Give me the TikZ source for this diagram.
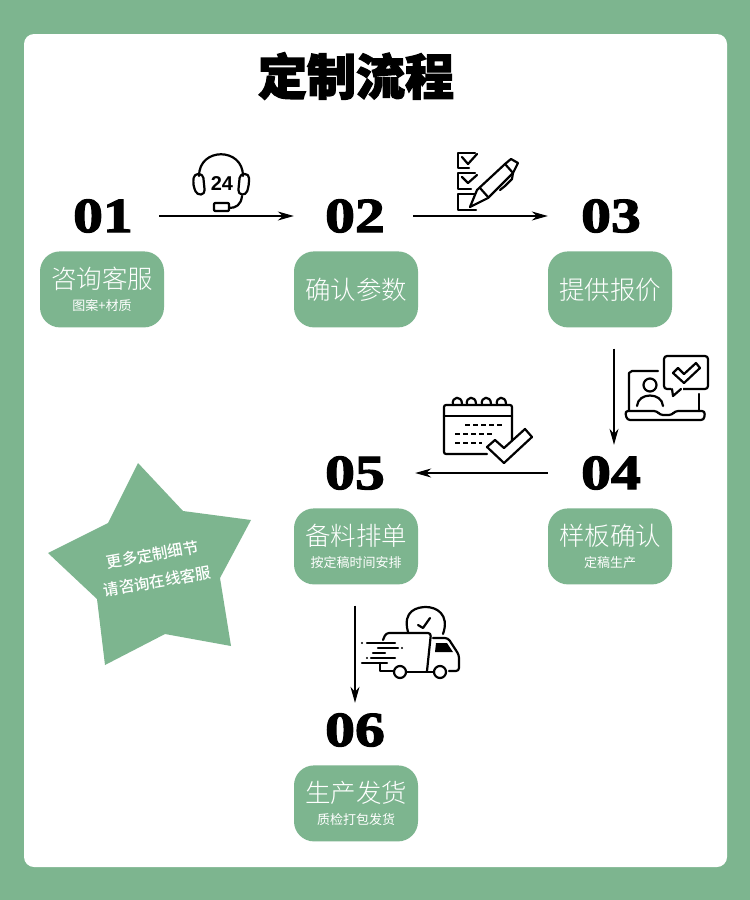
\documentclass[tikz,border=0pt]{standalone}
\usepackage{fontspec}
\usepackage{xcolor}
\usetikzlibrary{arrows.meta, positioning}
\newfontfamily\cjklight{Noto Sans CJK SC Light}
\newfontfamily\cjkreg{Noto Sans CJK SC}
\newfontfamily\cjkmed{Noto Sans CJK SC Medium}
\newfontfamily\cjktitle[FakeBold=2.5]{Noto Sans CJK SC Black}
\newfontfamily\numfont[FakeBold=2.6, FakeStretch=1.22]{Liberation Serif Bold}
\newfontfamily\iconfont{Liberation Sans Bold}
\definecolor{sage}{RGB}{125,181,143}
\newcommand{\mainsub}[2]{{\fontsize{25.5}{30}\selectfont #1}\\[-8pt]{\cjkreg\fontsize{13}{16}\selectfont #2}}
\newcommand{\mainonly}[1]{\raisebox{-2pt}{\fontsize{25.5}{30}\selectfont #1}}

\begin{document}
\begin{tikzpicture}[
  x=1pt, y=-1pt,
  node distance=15pt,
  numbox/.style={minimum width=116pt, minimum height=40pt, inner sep=0pt, font=\numfont\fontsize{49}{49}\selectfont},
  stepbox/.style={rectangle, fill=sage, rounded corners=20pt, minimum width=124pt, minimum height=76pt,
                  inner sep=0pt, align=center, text=white, font=\cjklight\fontsize{25.5}{30}\selectfont},
  arr/.style={-{Stealth[length=16pt, width=9pt, inset=5pt]}, line width=1.3pt, draw=black},
  icon/.style={draw=black, line width=2.2pt, line join=round, line cap=round}
]
  \useasboundingbox (0,0) rectangle (750,900);
  \fill[sage] (0,0) rectangle (750,900);
  \fill[white, rounded corners=10pt] (24,34) rectangle (727,867);

  \node[font=\cjktitle\fontsize{49}{50}\selectfont] (title) at (356,76) {定制流程};

  \node[numbox] (num01) at (103,216) {01};
  \node[numbox] (num02) at (355,216) {02};
  \node[numbox] (num03) at (611,216) {03};
  \node[numbox] (num04) at (611,473) {04};
  \node[numbox] (num05) at (355,473) {05};
  \node[numbox] (num06) at (355,730) {06};

  \node[stepbox, below=of num01, xshift=-1pt] (box01) {\mainsub{咨询客服}{图案+材质}};
  \node[stepbox, below=of num02, xshift=1pt]  (box02) {\mainonly{确认参数}};
  \node[stepbox, below=of num03, xshift=-1pt] (box03) {\mainonly{提供报价}};
  \node[stepbox, below=of num04, xshift=-1pt] (box04) {\mainsub{样板确认}{定稿生产}};
  \node[stepbox, below=of num05, xshift=1pt]  (box05) {\mainsub{备料排单}{按定稿时间安排}};
  \node[stepbox, below=of num06, xshift=1pt]  (box06) {\mainsub{生产发货}{质检打包发货}};

  \draw[arr] ([xshift=-2pt]num01.east) -- ([xshift=-3pt]num02.west);
  \draw[arr] (num02.east) -- ([xshift=-5pt]num03.west);
  \draw[arr, shorten <=21pt, shorten >=8pt] ([xshift=4pt]box03.south) -- ([xshift=3pt]num04.north);
  \draw[arr] ([xshift=-5pt]num04.west) -- ([xshift=2pt]num05.east);
  \draw[arr, shorten <=21pt, shorten >=7pt] ([xshift=-1pt]box05.south) -- (num06.north);

  % star
  \fill[sage] (138,463) -- (183,511) -- (251,520) -- (220,578) -- (231,646) -- (165,634)
    -- (105,665) -- (97,599) -- (48,553) -- (108,523) -- cycle;
  \node[rotate=10, align=center, text=white, font=\cjkmed\fontsize{15.5}{27}\selectfont] (starnote) at (155,568)
    {更多定制细节\\请咨询在线客服};

  % headset
  \draw[icon] (199,176) .. controls (199,147) and (243,147) .. (243,176);
  \draw[icon, rounded corners=4pt] (194,174) -- (203,174) -- (205,194) -- (197,195) -- (193,185) -- cycle;
  \draw[icon, rounded corners=4pt] (240,174) -- (249,174) -- (249,185) -- (246,195) -- (238,194) -- cycle;
  \draw[icon] (242,196) .. controls (241,205) and (236,208) .. (229,208);
  \draw[icon, rounded corners=1pt] (214,203) rectangle (229,211);
  \node[inner sep=0pt, font=\iconfont\fontsize{20}{20}\selectfont] (hours) at (222,184) {24};

  % checklist and pen
  \draw[icon] (475,153) -- (458,153) -- (458,168) -- (469,168);
  \draw[icon] (462,157) -- (468,164) -- (477,154);
  \draw[icon] (475,173) -- (458,173) -- (458,189) -- (471,189);
  \draw[icon] (462,177) -- (468,183) -- (477,175);
  \draw[icon] (475,194) -- (458,194) -- (458,210) -- (476,210);
  \draw[icon] (470,207) -- (477,190) -- (505,164) -- (513,173) -- (488,198) -- cycle;
  \draw[icon] (480,188) -- (488,197);
  \draw[icon] (505,164) -- (511,159) -- (518,163) -- (513,173);
  \draw[icon] (513,173) -- (512,179) -- (505,186) -- (500,190);

  % laptop and speech bubble
  \draw[icon] (658,371) -- (632,371) -- (629,373) -- (629,410);
  \draw[icon] (699,394) -- (699,411);
  \draw[icon, rounded corners=3pt] (625,411) -- (657,411) -- (660,415) -- (672,415) -- (675,411) -- (705,411)
    -- (704,420) -- (627,420) -- cycle;
  \draw[icon, rounded corners=3pt] (664,356) rectangle (708,389);
  \fill[white] (671,386) rectangle (683,391);
  \draw[icon] (672,389) -- (673,396) -- (681,389);
  \draw[icon] (673,373) -- (678,368) -- (684,374) -- (696,363) -- (700,368) -- (684,383) -- cycle;
  \draw[icon] (650,385) circle[radius=6.5pt];
  \draw[icon] (637,406) .. controls (638,392) and (662,392) .. (663,406);

  % calendar
  \draw[icon, rounded corners=2pt] (512,440) -- (512,405) -- (444,405) -- (444,454) -- (487,454);
  \draw[icon] (444,416) -- (512,416);
  \foreach \ringx in {453,467,482,497}
    \draw[icon] (\ringx,405) .. controls (\ringx-2,396) and (\ringx+9,395) .. (\ringx+9,404);
  \draw[icon, dash pattern=on 5pt off 3pt, line cap=butt] (465,425) -- (502,425);
  \draw[icon, dash pattern=on 5pt off 3pt, line cap=butt] (455,434) -- (492,434);
  \draw[icon, dash pattern=on 5pt off 3pt, line cap=butt] (455,443) -- (482,443);
  \draw[icon] (487,447) -- (495,440) -- (504,448) -- (525,429) -- (532,437) -- (504,463) -- cycle;

  % truck and clock
  \draw[icon] (408,632) .. controls (402,610) and (418,607) .. (426,607) .. controls (436,607) and (450,614) .. (443,634);
  \draw[icon] (418,625) -- (423,628) -- (430,618);
  \draw[icon, rounded corners=3pt] (383,640) -- (386,633) -- (431,633) -- (427,671);
  \draw[icon, rounded corners=3pt] (433,638) -- (448,638) -- (459,655) -- (459,671) -- (449,671);
  \draw[icon] (380,663) -- (380,671) -- (393,671);
  \draw[icon] (407,672) -- (433,672);
  \draw[icon] (400,672) circle[radius=6pt];
  \draw[icon] (440,672) circle[radius=6pt];
  \fill (436,643) -- (447,643) -- (453,652) -- (435,652) -- cycle;
  \draw[icon] (367,643) -- (395,643);
  \draw[icon] (378,648) -- (398,648);
  \draw[icon] (373,653) -- (385,653);
  \draw[icon] (371,658) -- (395,658);
  \draw[icon] (362,663) -- (387,663);
  \fill (362,643) circle[radius=1.2pt] (402,648) circle[radius=1.2pt] (367,658) circle[radius=1.2pt];
\end{tikzpicture}
\end{document}
